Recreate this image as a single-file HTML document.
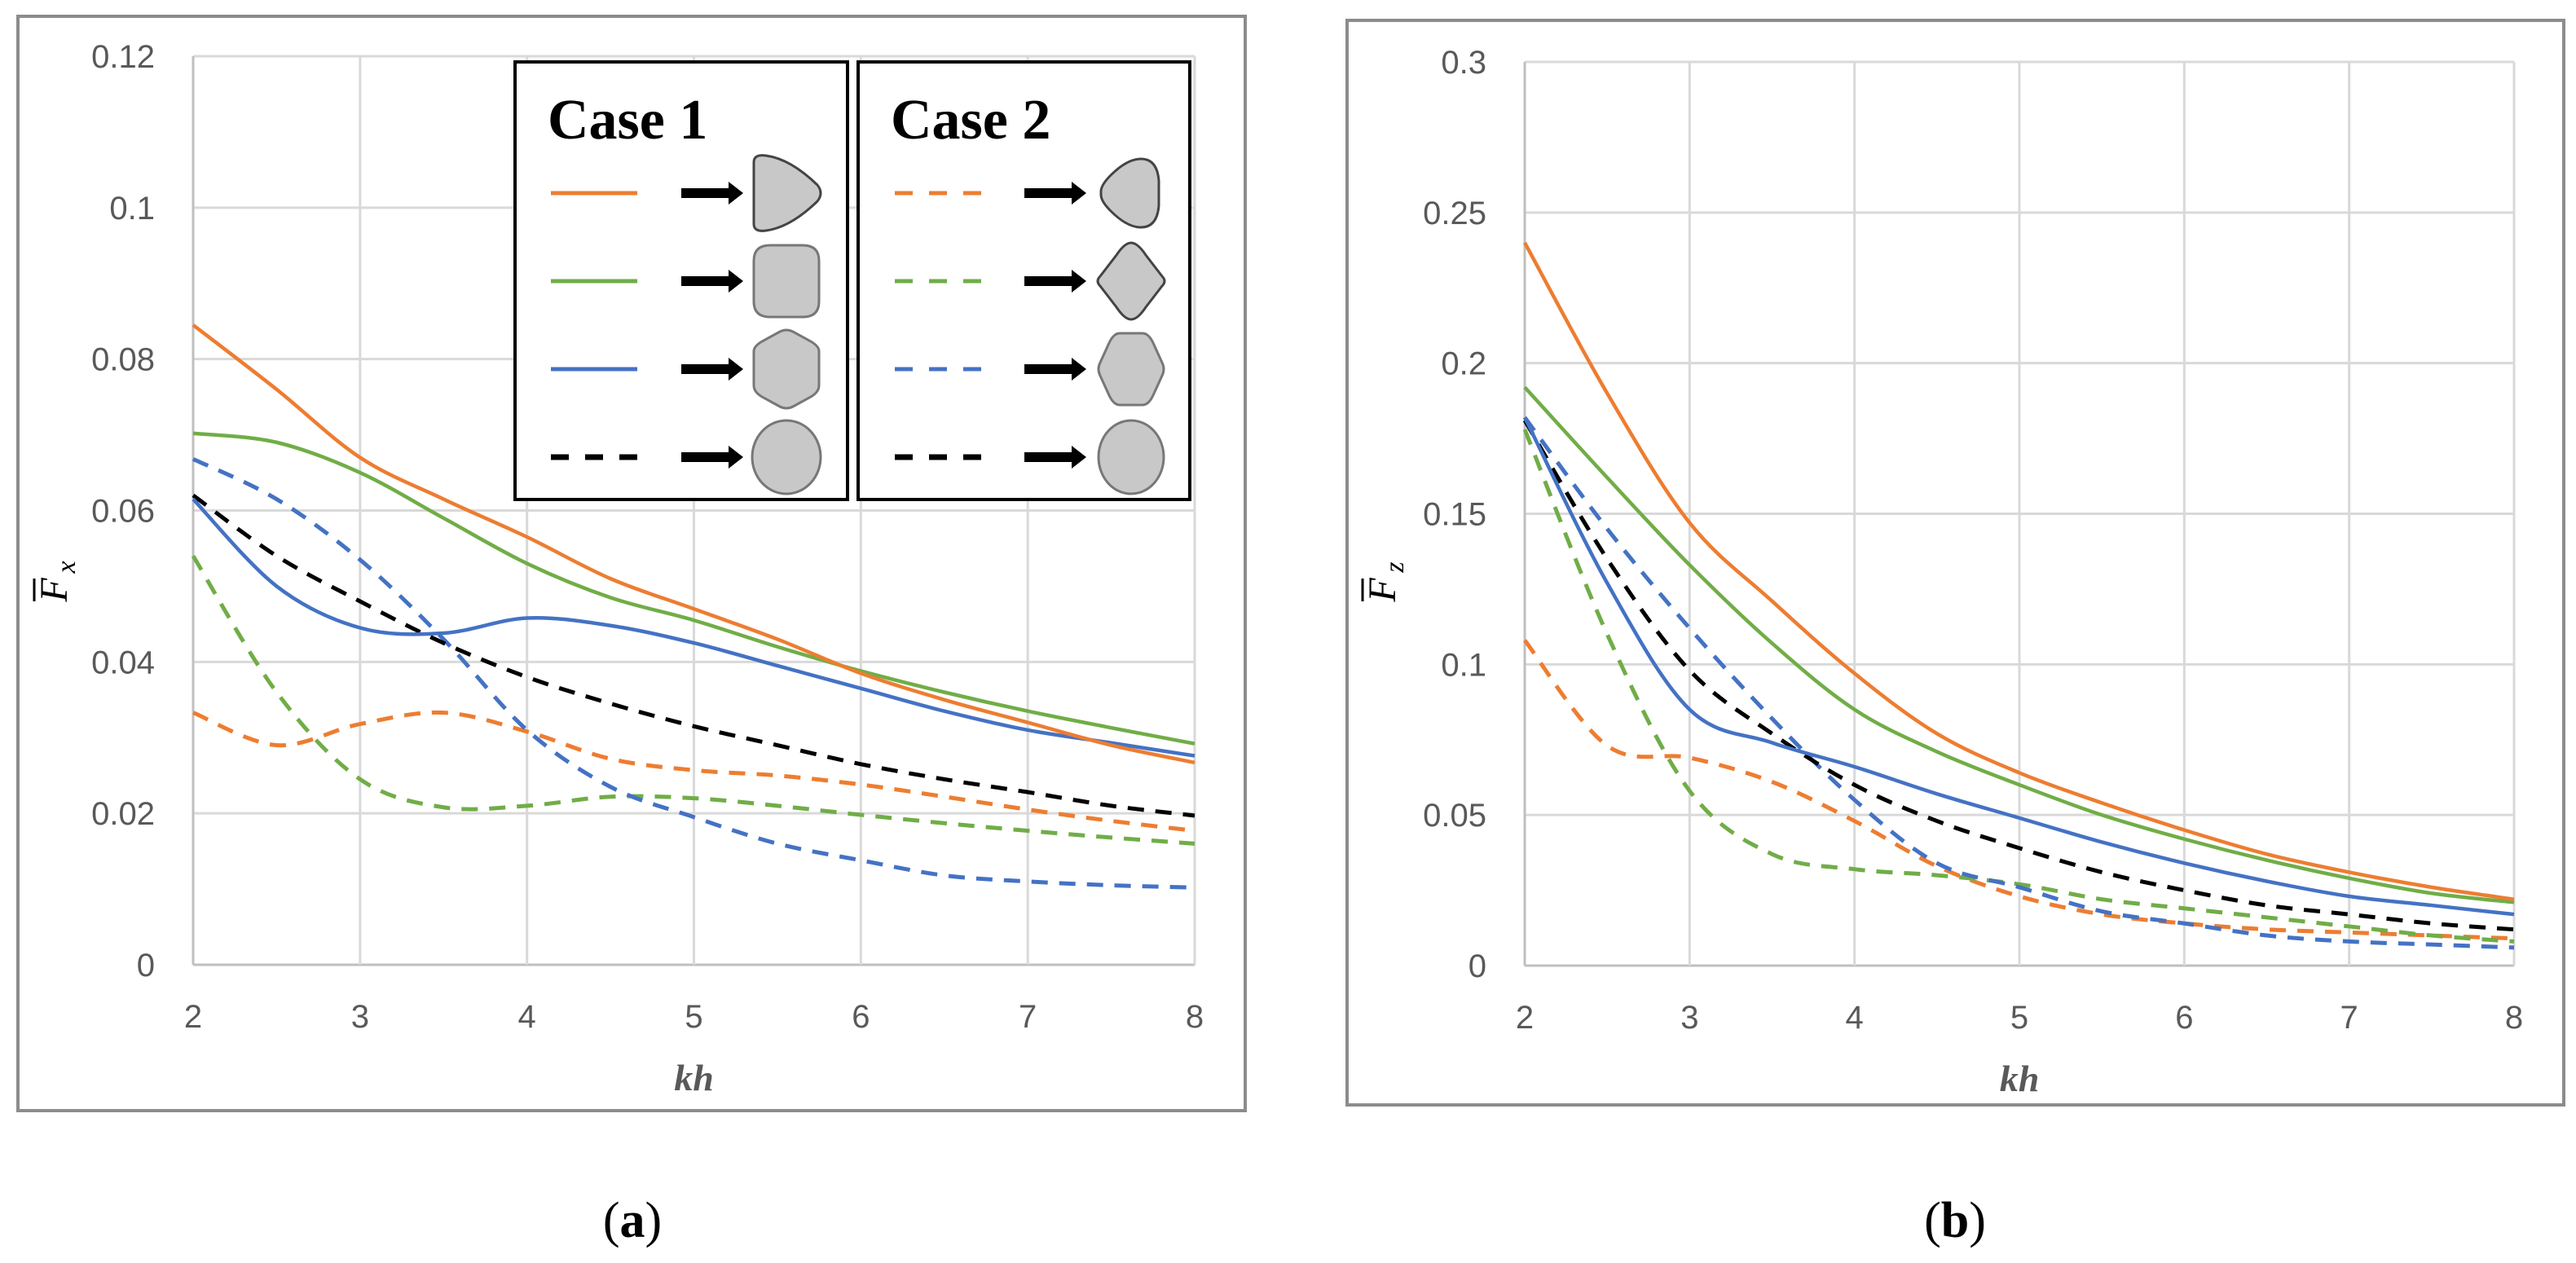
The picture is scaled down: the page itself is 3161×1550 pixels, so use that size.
<!DOCTYPE html>
<html><head><meta charset="utf-8"><style>
html,body{margin:0;padding:0;background:#fff;}
svg{display:block;}
.tick{font-family:"Liberation Sans",sans-serif;font-size:40px;fill:#595959;}
.axt{font-family:"Liberation Serif",serif;font-size:46px;font-weight:bold;font-style:italic;fill:#595959;}
.cap{font-family:"Liberation Serif",serif;font-size:62px;fill:#000;}
.case{font-family:"Liberation Serif",serif;font-size:70px;font-weight:bold;fill:#000;}
</style></head><body>
<svg id="root" width="3161" height="1550" viewBox="0 0 3161 1550" xmlns="http://www.w3.org/2000/svg">
<rect x="22" y="20" width="1506" height="1343" fill="#fff" stroke="#8c8c8c" stroke-width="4"/>
<rect x="1653" y="25" width="1493" height="1331" fill="#fff" stroke="#8c8c8c" stroke-width="4"/>
<g id="chartA"></g>
<g id="chartB"></g>
<g id="legend"></g>
<text class="cap" x="776" y="1518" text-anchor="middle">(<tspan font-weight="bold">a</tspan>)</text>
<text class="cap" x="2399" y="1518" text-anchor="middle">(<tspan font-weight="bold">b</tspan>)</text>
</svg>
<script>
const xVals=[2,2.5,3,3.5,4,4.5,5,5.5,6,6.5,7,7.5,8];
const xTicks=[2,3,4,5,6,7,8];
const yTicksA=[0,0.02,0.04,0.06,0.08,0.1,0.12];
const yTickLabelsA=["0","0.02","0.04","0.06","0.08","0.1","0.12"];
const yTicksB=[0,0.05,0.1,0.15,0.2,0.25,0.3];
const yTickLabelsB=["0","0.05","0.1","0.15","0.2","0.25","0.3"];
// Fx series
const fxOrangeSolid=[0.0845,0.076,0.067,0.0615,0.0565,0.051,0.047,0.043,0.0385,0.035,0.032,0.029,0.0267];
const fxGreenSolid=[0.0702,0.069,0.065,0.059,0.053,0.0485,0.0455,0.042,0.0388,0.036,0.0335,0.0313,0.0292];
const fxBlueSolid=[0.0615,0.050,0.0445,0.0438,0.0458,0.0448,0.0425,0.0395,0.0365,0.0335,0.031,0.0293,0.0276];
const fxBlackDash=[0.062,0.054,0.048,0.0425,0.038,0.0345,0.0315,0.029,0.0265,0.0245,0.0228,0.021,0.0197];
const fxOrangeDash=[0.0333,0.029,0.0318,0.0333,0.0308,0.0272,0.0257,0.025,0.0238,0.0222,0.0205,0.019,0.0177];
const fxGreenDash=[0.054,0.036,0.0245,0.0208,0.021,0.0222,0.022,0.021,0.0198,0.0187,0.0177,0.0168,0.016];
const fxBlueDash=[0.0668,0.0615,0.0535,0.043,0.031,0.0235,0.0195,0.016,0.0138,0.0118,0.011,0.0105,0.0102];
// Fz series
const fzOrangeSolid=[0.240,0.19,0.147,0.121,0.097,0.077,0.064,0.054,0.045,0.037,0.031,0.026,0.022];
const fzGreenSolid=[0.192,0.162,0.133,0.107,0.085,0.071,0.060,0.050,0.042,0.035,0.029,0.024,0.021];
const fzBlueSolid=[0.182,0.127,0.085,0.074,0.066,0.057,0.049,0.041,0.034,0.028,0.023,0.020,0.017];
const fzBlackDash=[0.181,0.135,0.098,0.077,0.060,0.048,0.039,0.031,0.025,0.020,0.017,0.014,0.012];
const fzOrangeDash=[0.108,0.073,0.069,0.061,0.048,0.033,0.023,0.017,0.014,0.012,0.011,0.010,0.009];
const fzGreenDash=[0.178,0.110,0.058,0.037,0.032,0.030,0.027,0.022,0.019,0.016,0.013,0.010,0.008];
const fzBlueDash=[0.182,0.145,0.112,0.082,0.055,0.034,0.026,0.018,0.014,0.010,0.008,0.007,0.006];

const NS="http://www.w3.org/2000/svg";
function mk(tag,attrs,parent){const e=document.createElementNS(NS,tag);for(const k in attrs)e.setAttribute(k,attrs[k]);parent.appendChild(e);return e;}
const OR="#ED7D31",GR="#70AD47",BL="#4472C4",BK="#000";
function smooth(pts){let d="M"+pts[0][0]+","+pts[0][1];for(let i=0;i<pts.length-1;i++){const p0=pts[Math.max(0,i-1)],p1=pts[i],p2=pts[i+1],p3=pts[Math.min(pts.length-1,i+2)];const c1=[p1[0]+(p2[0]-p0[0])/6,p1[1]+(p2[1]-p0[1])/6],c2=[p2[0]-(p3[0]-p1[0])/6,p2[1]-(p3[1]-p1[1])/6];d+=" C"+c1[0]+","+c1[1]+" "+c2[0]+","+c2[1]+" "+p2[0]+","+p2[1];}return d;}
function chart(g,cfg){
 const sx=v=>cfg.x0+(v-2)/6*(cfg.x1-cfg.x0);
 const sy=v=>cfg.y0-v/cfg.ymax*(cfg.y0-cfg.y1);
 cfg.yTicks.forEach((t,i)=>{
  const l=mk('line',{x1:cfg.x0,x2:cfg.x1,y1:sy(t),y2:sy(t),stroke:i==0?'#bfbfbf':'#d9d9d9','stroke-width':3},g);
  
  
  const tx=mk('text',{x:cfg.x0-47,y:sy(t)+14,'text-anchor':'end',class:'tick'},g);tx.textContent=cfg.yLabels[i];
  
  
 });
 xTicks.forEach(t=>{
  const l=mk('line',{x1:sx(t),x2:sx(t),y1:cfg.y1,y2:cfg.y0,stroke:t==2?'#bfbfbf':'#d9d9d9','stroke-width':3},g);
  
  
  const tx=mk('text',{x:sx(t),y:cfg.y0+77,'text-anchor':'middle',class:'tick'},g);tx.textContent=t;
  
  
 });
 const xt=mk('text',{x:(cfg.x0+cfg.x1)/2,y:cfg.y0+154,'text-anchor':'middle',class:'axt'},g);xt.textContent='kh';
 
 
 const yg=mk('g',{transform:`translate(${cfg.ytx},${cfg.yty}) rotate(-90)`},g);
 
 
 const yt=mk('text',{x:-14,y:0,'text-anchor':'middle','font-family':'"Liberation Serif",serif','font-size':'48','font-style':'italic',fill:'#000'},yg);
 yt.textContent='F';
 const ys=mk('text',{x:14,y:10,'text-anchor':'middle','font-family':'"Liberation Serif",serif','font-size':'34','font-style':'italic',fill:'#000'},yg);
 ys.textContent=cfg.sub;
 mk('line',{x1:-28,x2:0,y1:-40,y2:-40,stroke:'#000','stroke-width':3},yg);
 cfg.series.forEach(s=>{
  const pts=xVals.map((x,i)=>[sx(x),sy(s.v[i])]);
  const p=mk('path',{d:smooth(pts),fill:'none',stroke:s.c,'stroke-width':s.d?5:4.5,'stroke-dasharray':s.d?'20 14':'none'},g);
  
  
 });
}
chart(document.getElementById('chartA'),{x0:237,x1:1466,y0:1184,y1:69,ymax:0.12,yTicks:yTicksA,yLabels:yTickLabelsA,ytx:82,yty:710,sub:'x',
 series:[{v:fxOrangeDash,c:OR,d:1,n:'fx-case2-orange'},{v:fxGreenDash,c:GR,d:1,n:'fx-case2-green'},{v:fxBlueDash,c:BL,d:1,n:'fx-case2-blue'},{v:fxBlackDash,c:BK,d:1,n:'fx-circle-black'},
 {v:fxBlueSolid,c:BL,d:0,n:'fx-case1-blue'},{v:fxGreenSolid,c:GR,d:0,n:'fx-case1-green'},{v:fxOrangeSolid,c:OR,d:0,n:'fx-case1-orange'}]});
chart(document.getElementById('chartB'),{x0:1871,x1:3085,y0:1185,y1:76,ymax:0.3,yTicks:yTicksB,yLabels:yTickLabelsB,ytx:1712,yty:710,sub:'z',
 series:[{v:fzOrangeDash,c:OR,d:1,n:'fz-case2-orange'},{v:fzGreenDash,c:GR,d:1,n:'fz-case2-green'},{v:fzBlueDash,c:BL,d:1,n:'fz-case2-blue'},{v:fzBlackDash,c:BK,d:1,n:'fz-circle-black'},
 {v:fzBlueSolid,c:BL,d:0,n:'fz-case1-blue'},{v:fzGreenSolid,c:GR,d:0,n:'fz-case1-green'},{v:fzOrangeSolid,c:OR,d:0,n:'fz-case1-orange'}]});

// legend
const L=document.getElementById('legend');
function box(x,w,title){
 const r=mk('rect',{x:x,y:76,width:w,height:537,fill:'#fff',stroke:'#000','stroke-width':4},L);
 
 
 const t=mk('text',{x:x+40,y:170,class:'case'},L);t.textContent=title;
 
 
}
box(632,408,'Case 1');box(1053,407,'Case 2');
const rowsY=[237,345,453,561];
const shapes1=[
 "M-40,-38 Q-40,-48 -25,-46 Q5,-42 38,-10 Q46,0 38,10 Q5,42 -25,46 Q-40,48 -40,38 Z",
 "M-40,-25 Q-40,-44 -20,-44 L20,-44 Q40,-44 40,-25 L40,25 Q40,44 20,44 L-20,44 Q-40,44 -40,25 Z",
 "M-40,-22 Q-40,-28 -30,-34 L-8,-46 Q0,-50 8,-46 L30,-34 Q40,-28 40,-22 L40,20 Q40,28 30,34 L8,46 Q0,50 -8,46 L-30,34 Q-40,28 -40,20 Z",
 "M0,-45 A42,45 0 1,1 0,45 A42,45 0 1,1 0,-45 Z"];
const shapes2=[
 "M-37,-2 Q-37,-10 -25,-22 Q-5,-42 12,-42 Q32,-42 34,-15 L34,15 Q32,42 12,42 Q-5,42 -25,22 Q-37,10 -37,2 Z",
 "M0,-47 Q8,-47 18,-32 L38,-6 Q44,0 38,6 L18,32 Q8,47 0,47 Q-8,47 -18,32 L-38,6 Q-44,0 -38,-6 L-18,-32 Q-8,-47 0,-47 Z",
 "M-14,-44 L14,-44 Q22,-44 28,-30 L38,-8 Q42,0 38,8 L28,30 Q22,44 14,44 L-14,44 Q-22,44 -28,30 L-38,8 Q-42,0 -38,-8 L-28,-30 Q-22,-44 -14,-44 Z",
 "M0,-45 A40,45 0 1,1 0,45 A40,45 0 1,1 0,-45 Z"];
const cols=[OR,GR,BL,BK];
function entry(lx1,lx2,ax1,ax2,cx,dash,shape,y,c,i){
 const l=mk('line',{x1:lx1,x2:lx2,y1:y,y2:y,stroke:c,'stroke-width':c==BK?7:5,'stroke-dasharray':dash?'22 20':'none'},L);
 
 
 const a=mk('path',{d:`M${ax1},${y-6} L${ax2-18},${y-6} L${ax2-18},${y-14} L${ax2},${y} L${ax2-18},${y+14} L${ax2-18},${y+6} L${ax1},${y+6} Z`,fill:'#000'},L);
 
 
 const s=mk('path',{d:shape,transform:`translate(${cx},${y})`,fill:'#c8c8c8',stroke:i==0||i==1&&dash?'#444':'#777','stroke-width':3},L);
 
 
}
rowsY.forEach((y,i)=>{
 entry(676,782,836,912,965,i==3,shapes1[i],y,cols[i],i);
 entry(1098,1205,1257,1333,1388,true,shapes2[i],y,cols[i],i);
});
</script>
</body></html>
